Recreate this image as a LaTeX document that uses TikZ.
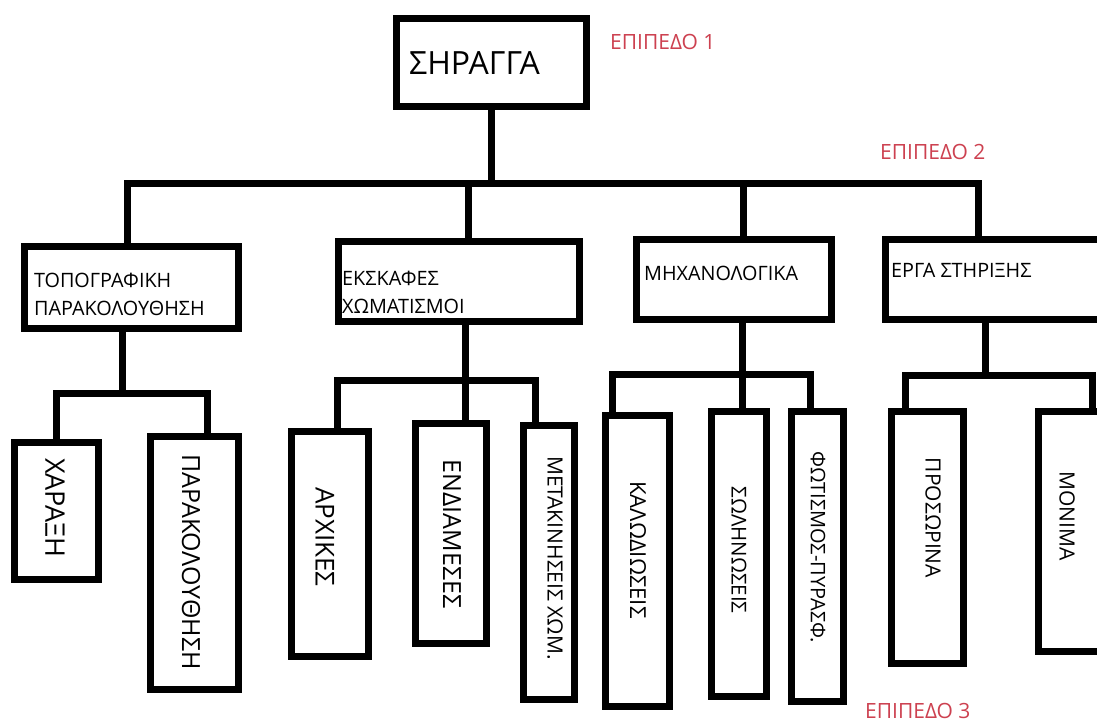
\documentclass[tikz,border=0pt]{standalone}
\usepackage{fontspec}
\setmainfont{Open Sans}
\definecolor{lvlred}{RGB}{205,65,80}
\begin{document}
\begin{tikzpicture}[x=1pt,y=-1pt,
  box/.style={draw=black,line width=7pt,inner sep=0pt,fill=white},
  conn/.style={draw=black,line width=7pt},
  lvl/.style={text=lvlred,inner sep=0pt,anchor=base west,font=\fontsize{21}{21}\selectfont},
  txt/.style={inner sep=0pt,anchor=base west,font=\fontsize{19.8}{28}\selectfont},
  leaf/.style={inner sep=0pt,rotate=-90}]
\clip (0,0) rectangle (1097,722);
\fill[white] (0,0) rectangle (1097,722);
% level 1
\node[box,minimum width=190pt,minimum height=88pt] (root) at (491.5,62.5) {};
\node[inner sep=0pt,anchor=base west,font=\fontsize{32}{32}\selectfont] (troot) at (409,75) {ΣΗΡΑΓΓΑ};
\node[lvl] (l1) at (610,50) {ΕΠΙΠΕΔΟ 1};
\node[lvl] (l2) at (880,160) {ΕΠΙΠΕΔΟ 2};
\node[lvl] (l3) at (865,718) {ΕΠΙΠΕΔΟ 3};
% level 2 boxes
\node[box,minimum width=214pt,minimum height=82pt] (b1) at (131.5,287.5) {};
\node[box,minimum width=241pt,minimum height=80pt] (b2) at (459,281.5) {};
\node[box,minimum width=195pt,minimum height=80pt] (b3) at (734,279.5) {};
\node[box,minimum width=221pt,minimum height=80pt] (b4) at (996,279.5) {};
\node[txt] (tb1) at (34,287) {\begin{tabular}[t]{@{}l@{}}ΤΟΠΟΓΡΑΦΙΚΗ\\ΠΑΡΑΚΟΛΟΥΘΗΣΗ\end{tabular}};
\node[txt] (tb2) at (342,285) {\begin{tabular}[t]{@{}l@{}}ΕΚΣΚΑΦΕΣ\\ΧΩΜΑΤΙΣΜΟΙ\end{tabular}};
\node[txt] (tb3) at (644,280) {ΜΗΧΑΝΟΛΟΓΙΚΑ};
\node[txt] (tb4) at (891,277) {ΕΡΓΑ ΣΤΗΡΙΞΗΣ};
% level 3 boxes
\node[box,minimum width=84pt,minimum height=137pt] (c11) at (56.5,511) {};
\node[box,minimum width=88pt,minimum height=253pt] (c12) at (194.5,563) {};
\node[box,minimum width=77pt,minimum height=225pt] (c21) at (330,544) {};
\node[box,minimum width=71pt,minimum height=220pt] (c22) at (451,533.5) {};
\node[box,minimum width=51pt,minimum height=274pt] (c23) at (549,562.5) {};
\node[box,minimum width=64pt,minimum height=291pt] (c31) at (637.5,561) {};
\node[box,minimum width=55pt,minimum height=285pt] (c32) at (739,554) {};
\node[box,minimum width=52pt,minimum height=290pt] (c33) at (817.5,556.5) {};
\node[box,minimum width=72pt,minimum height=252pt] (c41) at (927.5,537.5) {};
\node[box,minimum width=78pt,minimum height=240pt] (c42) at (1077.5,531.5) {};
\node[leaf,font=\fontsize{27}{27}\selectfont] (t11) at (55,508) {ΧΑΡΑΞΗ};
\node[leaf,font=\fontsize{25}{25}\selectfont] (t12) at (191,562) {ΠΑΡΑΚΟΛΟΥΘΗΣΗ};
\node[leaf,font=\fontsize{26}{26}\selectfont] (t21) at (325,537) {ΑΡΧΙΚΕΣ};
\node[leaf,font=\fontsize{25}{25}\selectfont] (t22) at (452,534) {ΕΝΔΙΑΜΕΣΕΣ};
\node[leaf,font=\fontsize{21}{21}\selectfont] (t23) at (555,558) {ΜΕΤΑΚΙΝΗΣΕΙΣ ΧΩΜ.};
\node[leaf,font=\fontsize{22}{22}\selectfont] (t31) at (638,550) {ΚΑΛΩΔΙΩΣΕΙΣ};
\node[leaf,font=\fontsize{20.5}{20.5}\selectfont] (t32) at (739,550) {ΣΩΛΗΝΩΣΕΙΣ};
\node[leaf,font=\fontsize{20}{20}\selectfont] (t33) at (818,547) {ΦΩΤΙΣΜΟΣ-ΠΥΡΑΣΦ.};
\node[leaf,font=\fontsize{21}{21}\selectfont] (t41) at (933,518) {ΠΡΟΣΩΡΙΝΑ};
\node[leaf,font=\fontsize{21}{21}\selectfont] (t42) at (1067,516) {ΜΟΝΙΜΑ};
% junctions
\coordinate (j0) at (491.5,183.5);
\coordinate (j1) at (122,393);
\coordinate (j2) at (465,380);
\coordinate (j3) at (742,374);
\coordinate (j4) at (985,375);
% connectors
\draw[conn] (root.south) -- (j0);
\draw[conn] (j0) -| ([xshift=-4.5]b1.north);
\draw[conn] (j0) -| ([xshift=9]b2.north);
\draw[conn] (j0) -| ([xshift=9]b3.north);
\draw[conn] (j0) -| ([xshift=-18]b4.north);
\draw[conn] ([xshift=-9.5]b1.south) -- (j1);
\draw[conn] (j1) -| (c11.north);
\draw[conn] (j1) -| ([xshift=12.5]c12.north);
\draw[conn] ([xshift=6]b2.south) -- (j2);
\draw[conn] (j2) -| ([xshift=7]c21.north);
\draw[conn] (j2) -| ([xshift=14]c22.north);
\draw[conn] (j2) -| ([xshift=-14]c23.north);
\draw[conn] ([xshift=8]b3.south) -- (j3);
\draw[conn] (j3) -| ([xshift=-25.5]c31.north);
\draw[conn] (j3) -| ([xshift=3]c32.north);
\draw[conn] (j3) -| ([xshift=-7.5]c33.north);
\draw[conn] ([xshift=-11]b4.south) -- (j4);
\draw[conn] (j4) -| ([xshift=-22.5]c41.north);
\draw[conn] (j4) -| ([xshift=14.5]c42.north);
\end{tikzpicture}
\end{document}
